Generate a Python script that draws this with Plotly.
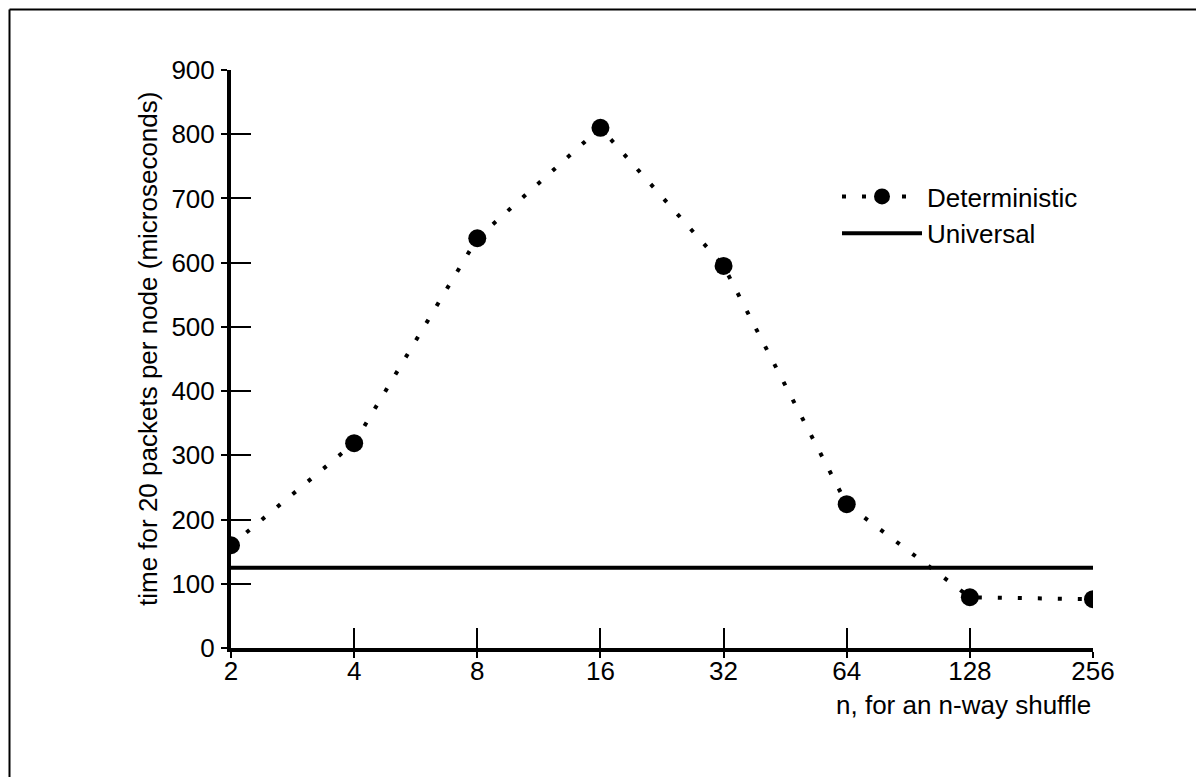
import plotly.graph_objects as go

# ---- data ----
n_values = [2, 4, 8, 16, 32, 64, 128, 256]
tick_labels = ["2", "4", "8", "16", "32", "64", "128", "256"]
deterministic = [160, 319, 638, 810, 595, 224, 79, 76]
universal_level = 125
universal_x = [2, 256]
y_ticks = [0, 100, 200, 300, 400, 500, 600, 700, 800, 900]

FONT = "Liberation Sans, Arial, Helvetica, sans-serif"
FS = 26

fig = go.Figure()

fig.add_trace(go.Scatter(
    x=n_values, y=deterministic, name="Deterministic",
    mode="lines+markers",
    line=dict(color="black", width=4, dash="4px,16px"),
    marker=dict(color="black", size=18),
))
fig.add_trace(go.Scatter(
    x=universal_x, y=[universal_level] * len(universal_x), name="Universal",
    mode="lines",
    line=dict(color="black", width=4),
))
# empty trace to activate the overlay axes (long inside ticks)
fig.add_trace(go.Scatter(x=[], y=[], xaxis="x2", yaxis="y2", showlegend=False,
                         hoverinfo="skip"))

OFF = 8  # body margin of the html page
W, H = 1204 - OFF, 777 - OFF
plot_left, plot_right, plot_top, plot_bottom = 231 - OFF, 1093 - OFF, 70 - OFF, 648 - OFF
L, R, T, B = plot_left, W - plot_right, plot_top, H - plot_bottom
pw, ph = plot_right - plot_left, plot_bottom - plot_top


def px(xpage):
    return (xpage - OFF - plot_left) / pw


def py(ypage):
    return (plot_bottom - (ypage - OFF)) / ph


xr = [0.30103, 2.40824]  # log10(2), log10(256)
common_x = dict(type="log", range=xr, tickvals=n_values, ticktext=tick_labels,
                showgrid=False, zeroline=False)
common_y = dict(range=[0, 900], tickvals=y_ticks, showgrid=False, zeroline=False)

fig.update_layout(
    width=W, height=H,
    margin=dict(l=L, r=R, t=T, b=B, autoexpand=False),
    paper_bgcolor="white", plot_bgcolor="white",
    font=dict(family=FONT, size=FS, color="black"),
    xaxis=dict(**common_x, showline=True, linewidth=4, linecolor="black",
               ticks="outside", ticklen=6, tickwidth=2, tickcolor="black",
               tickfont=dict(size=FS), automargin=False, ticklabelstandoff=-9),
    yaxis=dict(**common_y, showline=True, linewidth=4, linecolor="black",
               ticks="outside", ticklen=6, tickwidth=2, tickcolor="black",
               tickfont=dict(size=FS), automargin=False, ticklabelstandoff=1),
    xaxis2=dict(**common_x, overlaying="x", anchor="y2", side="bottom",
                showline=False, ticks="inside", ticklen=20, tickwidth=2,
                tickcolor="black", showticklabels=False),
    yaxis2=dict(**common_y, overlaying="y", anchor="x2", side="left",
                showline=False, ticks="inside", ticklen=20, tickwidth=2,
                tickcolor="black", showticklabels=False),
    legend=dict(x=px(837), y=py(173), xanchor="left", yanchor="top",
                bgcolor="rgba(0,0,0,0)", font=dict(size=FS), itemwidth=80),
    showlegend=True,
    annotations=[
        dict(text="n, for an n-way shuffle", xref="paper", yref="paper",
             x=1, y=py(705), xanchor="right", yanchor="middle",
             showarrow=False, font=dict(size=FS)),
        dict(text="time for 20 packets per node (microseconds)", xref="paper",
             yref="paper", x=px(148), y=py(349), xanchor="center", yanchor="middle",
             textangle=-90, showarrow=False, font=dict(size=FS)),
    ],
    shapes=[
        dict(type="line", xref="paper", yref="paper",
             x0=px(9.5), x1=px(1210), y0=py(9.5), y1=py(9.5),
             line=dict(color="black", width=2)),
        dict(type="line", xref="paper", yref="paper",
             x0=px(9.5), x1=px(9.5), y0=py(9.5), y1=py(790),
             line=dict(color="black", width=2)),
    ],
)

fig.write_html("out.html")
